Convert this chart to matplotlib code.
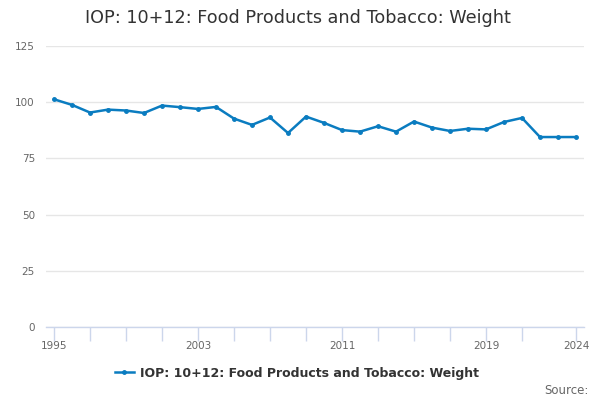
import matplotlib
matplotlib.use("Agg")
import matplotlib.pyplot as plt
from matplotlib.lines import Line2D

years = list(range(1995, 2025))
values = [101.3, 98.8, 95.4, 96.7, 96.3, 95.2, 98.5, 97.8, 97.0, 97.9,
          92.7, 89.9, 93.2, 86.3, 93.6, 90.8, 87.6, 86.9, 89.3, 86.9,
          91.4, 88.7, 87.2, 88.2, 87.9, 91.2, 93.0, 84.5, 84.5, 84.5]
title = "IOP: 10+12: Food Products and Tobacco: Weight"
yticks = [0, 25, 50, 75, 100, 125]
xtick_pos = list(range(1995, 2022, 2)) + [2024]
xtick_labels = ["1995", "2003", "2011", "2019", "2024"]

line_color = "#0a7cc0"
axis_color = "#ccd6eb"
grid_color = "#e6e6e6"

fig = plt.figure(figsize=(6, 4), dpi=100)
ax = fig.add_axes([46/600, 1-327/400, (584-46)/600, (327-46)/400])
ax.plot(years, values, color=line_color, lw=1.8, marker="o", ms=2.5, zorder=3)
ax.set_xlim(1995 - 8/18, 2024 + 8/18)
ax.set_ylim(0, 125)
ax.set_yticks(yticks)
ax.yaxis.grid(True, color=grid_color, lw=1)
ax.set_axisbelow(True)
for s in ["top", "right", "left"]:
    ax.spines[s].set_visible(False)
ax.spines["bottom"].set_color(axis_color)
ax.spines["bottom"].set_linewidth(1)
ax.tick_params(axis="y", length=0, labelsize=7.5, labelcolor="#666666", pad=8)
ax.set_xticks(xtick_pos)
ax.set_xticklabels([str(y) if str(y) in xtick_labels else "" for y in xtick_pos])
ax.tick_params(axis="x", length=10, width=1, color=axis_color, labelsize=7.5,
               labelcolor="#666666", pad=0)

fig.text(298/600, 1-18/400, title, ha="center", va="center", fontsize=12.7, color="#333333")

handle = Line2D([], [], color=line_color, lw=1.8, marker="o", ms=2.5)
fig.legend([handle], [title], loc="center", bbox_to_anchor=(297/600, 1-373/400),
           frameon=False, prop={"size": 9, "weight": "bold"}, handlelength=1.5,
           handletextpad=0.5, labelcolor="#333333")
fig.text(589/600, 1-391/400, "Source:", ha="right", va="center", fontsize=8.5, color="#666666")

fig.savefig("out.png", dpi=100)
